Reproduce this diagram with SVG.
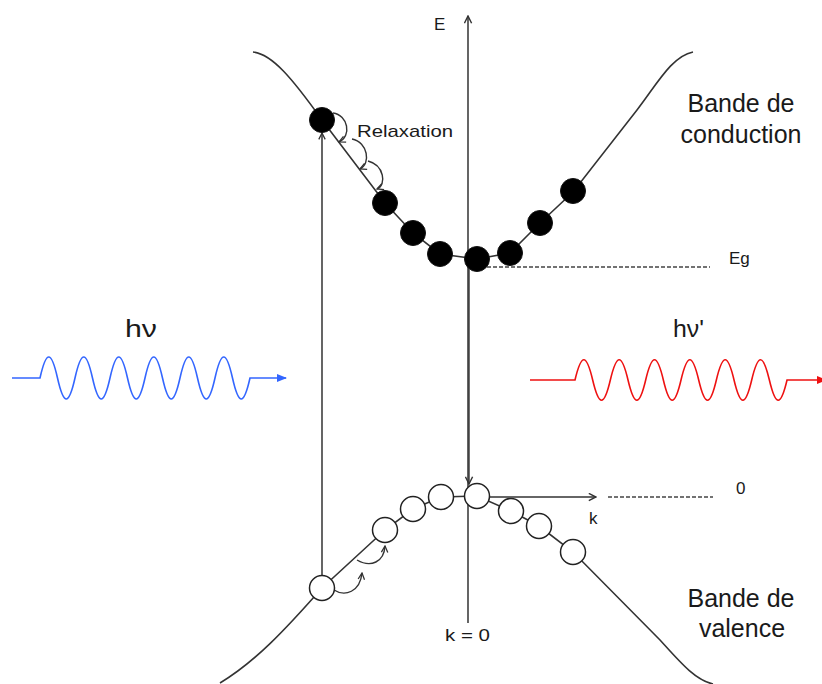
<svg xmlns="http://www.w3.org/2000/svg" width="822" height="684" viewBox="0 0 822 684">
<style>
  .curve { fill: none; stroke: #333; stroke-width: 1.6; }
  .axis { fill: none; stroke: #555; stroke-width: 1.8; }
  .thin { fill: none; stroke: #333; stroke-width: 1.4; }
  .dash { fill: none; stroke: #444; stroke-width: 1.4; stroke-dasharray: 4 2; }
  .el { fill: #000; stroke: #111; stroke-width: 1; }
  .hole { fill: #fff; stroke: #222; stroke-width: 1.5; }
  .lbl { font-family: "Liberation Sans", Arial, sans-serif; fill: #1a1a1a; }
</style>
<defs>
  <marker id="va" viewBox="0 0 10 10" refX="9" refY="5" markerWidth="9" markerHeight="9" markerUnits="userSpaceOnUse" orient="auto">
    <path d="M1,1 L9,5 L1,9" fill="none" stroke="#333" stroke-width="1.6"/>
  </marker>
  <marker id="vs" viewBox="0 0 10 10" refX="9" refY="5" markerWidth="8" markerHeight="8" markerUnits="userSpaceOnUse" orient="auto">
    <path d="M1,1 L9,5 L1,9" fill="none" stroke="#333" stroke-width="1.6"/>
  </marker>
  <marker id="blue" viewBox="0 0 10 10" refX="9" refY="5" markerWidth="10" markerHeight="10" markerUnits="userSpaceOnUse" orient="auto">
    <path d="M0,1 L10,5 L0,9 Z" fill="#3366ff"/>
  </marker>
  <marker id="red" viewBox="0 0 10 10" refX="9" refY="5" markerWidth="10" markerHeight="10" markerUnits="userSpaceOnUse" orient="auto">
    <path d="M0,1 L10,5 L0,9 Z" fill="#ee1111"/>
  </marker>
</defs>

<g id="connectors">
  <!-- E axis -->
  <path class="axis" d="M468,623 L468,16" marker-end="url(#va)"/>
  <!-- recombination arrow -->
  <path class="thin" d="M469,268 L469,484" marker-end="url(#va)"/>
  <!-- excitation arrow -->
  <path class="axis" d="M322,576 L322,133" marker-end="url(#vs)"/>
  <!-- k axis -->
  <path class="thin" d="M478,497 L596,497" marker-end="url(#va)"/>
  <path class="dash" d="M608,497 L713,497"/>
  <!-- Eg dashed -->
  <path class="dash" d="M487,267 L710,267"/>
  <!-- relaxation arcs -->
  <path class="thin" d="M333,113 C348,115 352,136 339,142" marker-end="url(#vs)"/>
  <path class="thin" d="M352,139 C368,142 371,164 360,169" marker-end="url(#vs)"/>
  <path class="thin" d="M368,161 C384,165 387,185 377,189" marker-end="url(#vs)"/>
  <!-- valence arcs -->
  <path class="thin" d="M334,590 C345,597 360,592 362,573" marker-end="url(#vs)"/>
  <path class="thin" d="M357,560 C371,568 384,562 385,546" marker-end="url(#vs)"/>
</g>

<g id="conduction-band">
  <path class="curve" d="M253,52 C272,54 292,78 322,120 L385,203 L413,233 L440,254 L477,259 L510,253 L540,223 L573,192 L637,110 C657,84 672,56 693,52"/>
  <circle class="el" cx="322" cy="120" r="12.5"/>
  <circle class="el" cx="385" cy="203" r="12.5"/>
  <circle class="el" cx="413" cy="233" r="12.5"/>
  <circle class="el" cx="440" cy="254" r="12.5"/>
  <circle class="el" cx="477" cy="259" r="12.5"/>
  <circle class="el" cx="510" cy="253" r="12.5"/>
  <circle class="el" cx="540" cy="223" r="12.5"/>
  <circle class="el" cx="573" cy="191" r="12.5"/>
</g>

<g id="valence-band">
  <path class="curve" d="M220,683 C255,662 285,630 322,588 L385,530 L413,509 L441,497 L477,496 L511,511 L539,526 L573,552 L660,640 C680,662 695,680 713,684"/>
  <circle class="hole" cx="322" cy="588" r="12.5"/>
  <circle class="hole" cx="385" cy="530" r="12.5"/>
  <circle class="hole" cx="413" cy="509" r="12.5"/>
  <circle class="hole" cx="441" cy="497" r="12.5"/>
  <circle class="hole" cx="477" cy="496" r="12.5"/>
  <circle class="hole" cx="511" cy="511" r="12.5"/>
  <circle class="hole" cx="539" cy="526" r="12.5"/>
  <circle class="hole" cx="573" cy="552" r="12.5"/>
</g>

<g id="photon-in">
  <path fill="none" stroke="#3366ff" stroke-width="1.6" marker-end="url(#blue)" d="M12,378 L40,378 c6.3,-28 11.2,-28 17.5,0 c6.3,28 11.2,28 17.5,0 c6.3,-28 11.2,-28 17.5,0 c6.3,28 11.2,28 17.5,0 c6.3,-28 11.2,-28 17.5,0 c6.3,28 11.2,28 17.5,0 c6.3,-28 11.2,-28 17.5,0 c6.3,28 11.2,28 17.5,0 c6.3,-28 11.2,-28 17.5,0 c6.3,28 11.2,28 17.5,0 c6.3,-28 11.2,-28 17.5,0 c6.3,28 11.2,28 17.5,0 L286,378"/>
  <text class="lbl" x="125" y="337" font-size="23" textLength="32" lengthAdjust="spacingAndGlyphs">hν</text>
</g>

<g id="photon-out">
  <path fill="none" stroke="#ee1111" stroke-width="1.6" marker-end="url(#red)" d="M530,380 L575,380 c6.4,-27 11.3,-27 17.67,0 c6.4,27 11.3,27 17.67,0 c6.4,-27 11.3,-27 17.67,0 c6.4,27 11.3,27 17.67,0 c6.4,-27 11.3,-27 17.67,0 c6.4,27 11.3,27 17.67,0 c6.4,-27 11.3,-27 17.67,0 c6.4,27 11.3,27 17.67,0 c6.4,-27 11.3,-27 17.67,0 c6.4,27 11.3,27 17.67,0 c6.4,-27 11.3,-27 17.67,0 c6.4,27 11.3,27 17.67,0 L826,380"/>
  <text class="lbl" x="673" y="337" font-size="23" textLength="31" lengthAdjust="spacingAndGlyphs">hν'</text>
</g>

<g id="labels">
  <text class="lbl" x="434" y="30" font-size="17">E</text>
  <text class="lbl" x="357" y="137" font-size="17" textLength="96" lengthAdjust="spacingAndGlyphs">Relaxation</text>
  <text class="lbl" x="729" y="264" font-size="17">Eg</text>
  <text class="lbl" x="736" y="494" font-size="17">0</text>
  <text class="lbl" x="589" y="524" font-size="17">k</text>
  <text class="lbl" x="445" y="641" font-size="17" textLength="45" lengthAdjust="spacingAndGlyphs">k = 0</text>
  <text class="lbl" x="741" y="112" font-size="25" text-anchor="middle">Bande de</text>
  <text class="lbl" x="741" y="143" font-size="25" text-anchor="middle">conduction</text>
  <text class="lbl" x="741" y="607" font-size="25" text-anchor="middle">Bande de</text>
  <text class="lbl" x="742" y="637" font-size="25" text-anchor="middle">valence</text>
</g>
</svg>
